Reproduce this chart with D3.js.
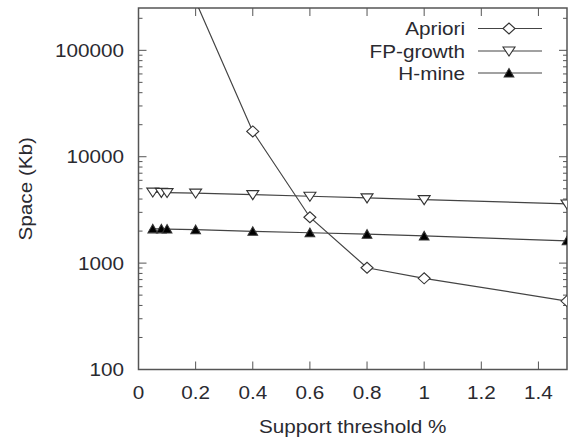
<!DOCTYPE html>
<html>
<head>
<meta charset="utf-8">
<script src="https://cdn.jsdelivr.net/npm/d3@7"></script>
<style>
  body { margin: 0; background: #fff; }
  text { font-family: "Liberation Sans", Arial, sans-serif; fill: #2a2a30; font-size: 18px; }
</style>
</head>
<body>
<svg id="chart" width="568" height="439"></svg>
<script>
// data
var aprioriX = [0.2, 0.4, 0.6, 0.8, 1.0, 1.5];
var aprioriY = [290000, 17300, 2700, 905, 720, 440];

var fpX = [0.05, 0.08, 0.1, 0.2, 0.4, 0.6, 0.8, 1.0, 1.5];
var fpY = [4650, 4620, 4600, 4550, 4400, 4250, 4100, 3950, 3600];

var hmX = [0.05, 0.08, 0.1, 0.2, 0.4, 0.6, 0.8, 1.0, 1.5];
var hmY = [2100, 2100, 2090, 2060, 1990, 1930, 1870, 1800, 1620];

var xTicks = [0, 0.2, 0.4, 0.6, 0.8, 1, 1.2, 1.4];
var yTicks = [100, 1000, 10000, 100000];
var names = ["Apriori", "FP-growth", "H-mine"];

var svg = d3.select("#chart");
// plot box (note: "top" is reserved on window, so pTop)
var pLeft = 138.5, pRight = 567, pTop = 8, pBottom = 369.5;
var stretch = 1.15; // the original text is a bit wider than plain Arial

var x = d3.scaleLinear().domain([0, 1.5]).range([pLeft, pRight]);
var y = d3.scaleLog().domain([100, 250000]).range([pBottom, pTop]);

var axisCol = "#555";

// minor log ticks
var minor = [];
[100, 1000, 10000, 100000].forEach(function(d) {
  for (var k = 2; k <= 9; k++) if (d * k <= 250000) minor.push(d * k);
});

function label(px, py, txt, anchor, rot) {
  svg.append("text")
    .attr("transform", "translate(" + px + "," + py + ")" + (rot ? " rotate(" + rot + ")" : "") + " scale(" + stretch + ",1)")
    .attr("text-anchor", anchor)
    .text(txt);
}

var g = svg.append("g");

// frame
g.append("rect")
  .attr("x", pLeft).attr("y", pTop)
  .attr("width", pRight - pLeft).attr("height", pBottom - pTop)
  .attr("fill", "none").attr("stroke", axisCol).attr("stroke-width", 1.5);

// x ticks (bottom and top, inward)
xTicks.forEach(function(t) {
  if (t == 0) return;
  g.append("line").attr("x1", x(t)).attr("x2", x(t))
    .attr("y1", pBottom).attr("y2", pBottom - 8).attr("stroke", axisCol);
  g.append("line").attr("x1", x(t)).attr("x2", x(t))
    .attr("y1", pTop).attr("y2", pTop + 8).attr("stroke", axisCol);
});

// y ticks (left and right)
yTicks.forEach(function(t) {
  g.append("line").attr("x1", pLeft).attr("x2", pLeft + 8)
    .attr("y1", y(t)).attr("y2", y(t)).attr("stroke", axisCol);
  g.append("line").attr("x1", pRight).attr("x2", pRight - 8)
    .attr("y1", y(t)).attr("y2", y(t)).attr("stroke", axisCol);
});
minor.forEach(function(t) {
  g.append("line").attr("x1", pLeft).attr("x2", pLeft + 4)
    .attr("y1", y(t)).attr("y2", y(t)).attr("stroke", axisCol);
  g.append("line").attr("x1", pRight).attr("x2", pRight - 4)
    .attr("y1", y(t)).attr("y2", y(t)).attr("stroke", axisCol);
});

// tick labels
xTicks.forEach(function(t) { label(x(t), 399, t, "middle"); });
yTicks.forEach(function(t) { label(124, y(t) + 6.5, t, "end"); });

label((pLeft + pRight) / 2, 433, "Support threshold %", "middle");
label(32, (pTop + pBottom) / 2, "Space (Kb)", "middle", -90);

// clip
svg.append("clipPath").attr("id", "clip")
  .append("rect").attr("x", pLeft).attr("y", pTop)
  .attr("width", pRight - pLeft).attr("height", pBottom - pTop);

var plot = svg.append("g").attr("clip-path", "url(#clip)");
var lineCol = "#444";

var line = d3.line()
  .x(function(d) { return x(d[0]); })
  .y(function(d) { return y(d[1]); });

var series = [
  d3.zip(aprioriX, aprioriY),
  d3.zip(fpX, fpY),
  d3.zip(hmX, hmY)
];

// gnuplot-like point shapes
var shapes = [
  { d: "M-6,0L0,-5.5L6,0L0,5.5Z", fill: "#fff" },        // open diamond
  { d: "M-6,-4L6,-4L0,5Z", fill: "#fff" },              // open triangle down
  { d: "M-4.8,4L4.8,4L0,-4.5Z", fill: "#000" }          // filled triangle up
];

function drawMarker(sel, s, px, py) {
  sel.append("path")
    .attr("d", s.d)
    .attr("transform", "translate(" + px + "," + py + ")")
    .attr("fill", s.fill)
    .attr("stroke", "#333")
    .attr("stroke-width", 1.1);
}

series.forEach(function(data) {
  plot.append("path")
    .datum(data)
    .attr("d", line)
    .attr("fill", "none")
    .attr("stroke", lineCol)
    .attr("stroke-width", 1.2);
});
series.forEach(function(data, i) {
  data.forEach(function(d) {
    drawMarker(plot, shapes[i], x(d[0]), y(d[1]));
  });
});

// legend
var legY = [28.5, 51, 73];
names.forEach(function(n, i) {
  label(465, legY[i] + 6.5, n, "end");
  svg.append("line")
    .attr("x1", 478).attr("x2", 542)
    .attr("y1", legY[i]).attr("y2", legY[i])
    .attr("stroke", lineCol).attr("stroke-width", 1.2);
  drawMarker(svg, shapes[i], 509, legY[i]);
});
</script>
</body>
</html>
